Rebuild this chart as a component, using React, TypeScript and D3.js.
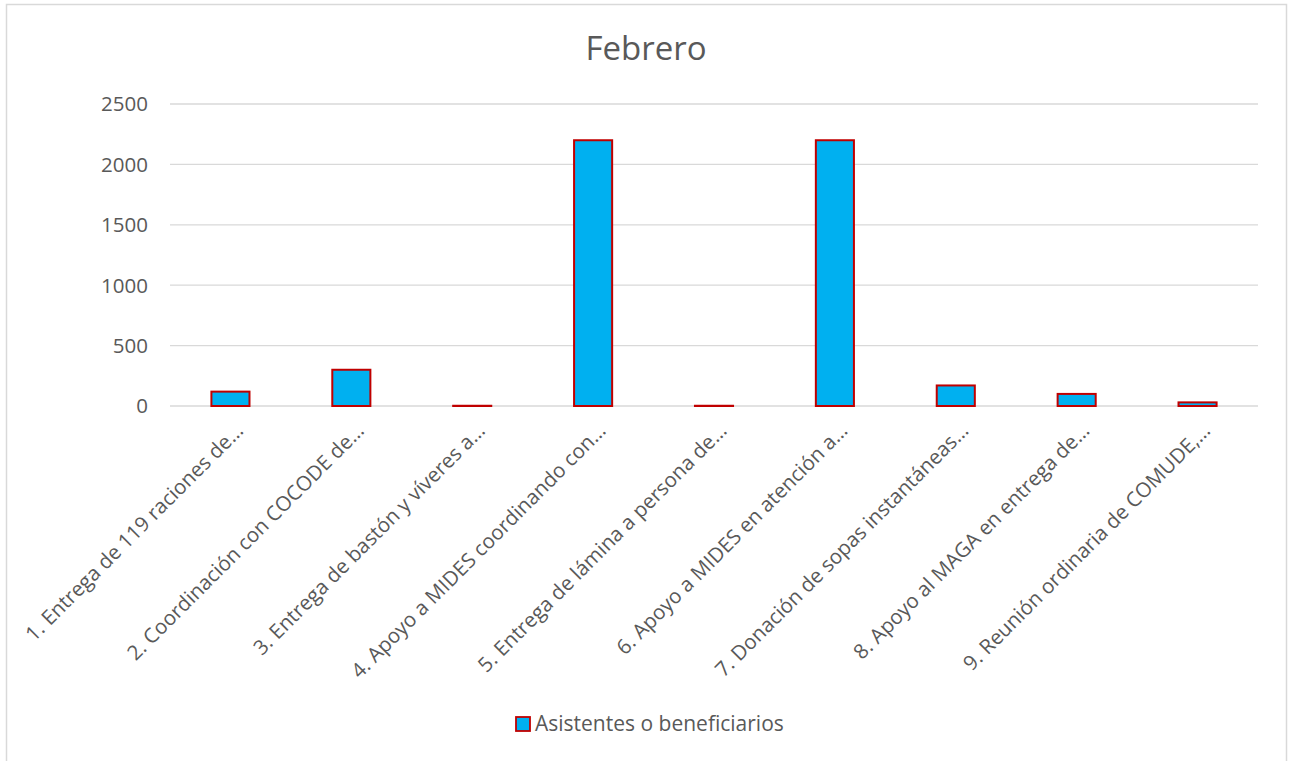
import React from "react";
import * as d3 from "d3";

const categories = [
  "1. Entrega de 119 raciones de…",
  "2. Coordinación con COCODE de…",
  "3. Entrega de bastón y víveres a…",
  "4. Apoyo a MIDES coordinando con…",
  "5. Entrega de lámina a persona de…",
  "6. Apoyo a MIDES en atención a…",
  "7. Donación de sopas instantáneas…",
  "8. Apoyo al MAGA en entrega de…",
  "9. Reunión ordinaria de COMUDE,…",
];
const values = [119, 300, 2, 2200, 2, 2200, 170, 100, 30];
const yTicks = [0, 500, 1000, 1500, 2000, 2500];
const seriesName = "Asistentes o beneficiarios";
const title = "Febrero";

const W = 1290;
const H = 761;
const FONT = "'Open Sans', Lato, sans-serif";

export default function App() {
  const x = d3.scaleBand<string>().domain(categories).range([170, 1258]).paddingInner(0.685).paddingOuter(0.3425);
  const y = d3.scaleLinear().domain([0, 2500]).range([406, 104]);
  const bw = x.bandwidth();
  return (
    <svg width={W} height={H} style={{ position: "absolute", left: 0, top: 0 }} fontFamily={FONT}>
      <rect x={0} y={0} width={W} height={H} fill="#fff" />
      <rect x={6.5} y={4.5} width={1280} height={800} fill="#fff" stroke="#d9d9d9" strokeWidth={1.5} />
      <text x={646} y={60} textAnchor="middle" fontSize={33} fill="#595959">{title}</text>
      {yTicks.map((t) => (
        <g key={t}>
          <line x1={170} x2={1258} y1={y(t)} y2={y(t)} stroke="#d9d9d9" strokeWidth={1.3} />
          <text x={148} y={y(t)} dy="0.36em" textAnchor="end" fontSize={20.5} fill="#595959">{t}</text>
        </g>
      ))}
      {categories.map((c, i) => {
        const x0 = x(c)!;
        const yt = y(values[i]);
        return (
          <rect key={c} x={x0} y={yt} width={bw} height={Math.max(0, y(0) - yt)} fill="#00B0F0" stroke="#C00000" strokeWidth={2} />
        );
      })}
      {categories.map((c) => {
        const cx = x(c)! + bw / 2 + 14;
        const cy = 432;
        return (
          <text key={c} x={cx} y={cy} textAnchor="end" fontSize={20.5} fill="#595959" transform={`rotate(-45, ${cx}, ${cy})`}>
            {c}
          </text>
        );
      })}
      <rect x={516} y={717} width={14} height={14} fill="#00B0F0" stroke="#C00000" strokeWidth={1.8} />
      <text x={535} y={731} fontSize={21} fill="#595959">{seriesName}</text>
    </svg>
  );
}
